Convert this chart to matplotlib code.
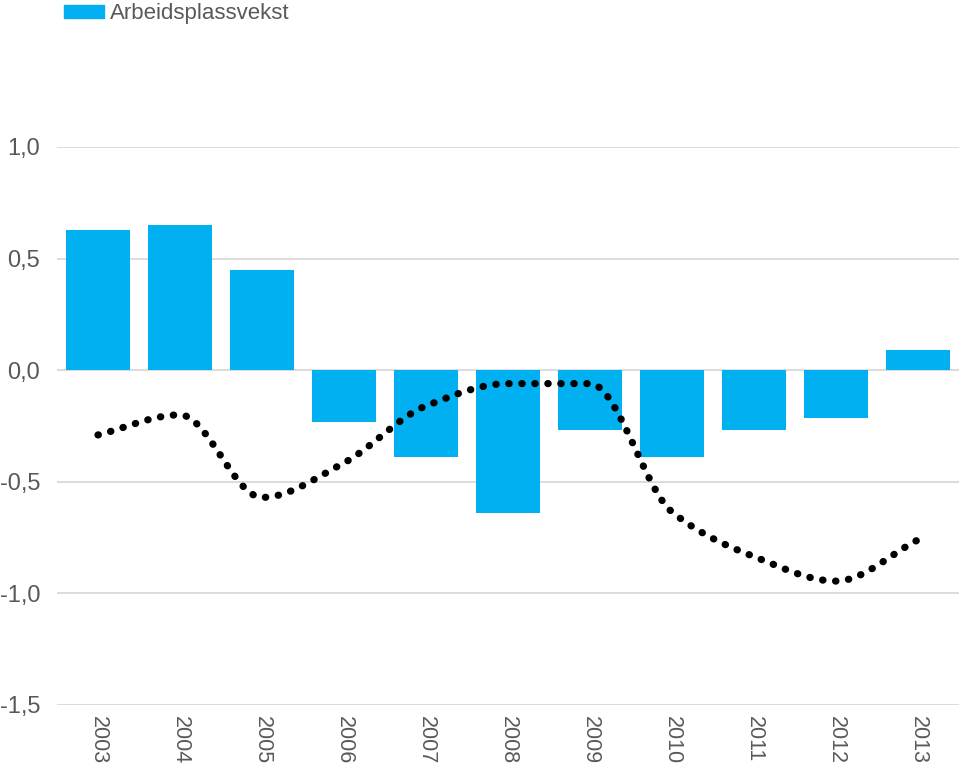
import numpy as np
import matplotlib
matplotlib.use('Agg')
import matplotlib.pyplot as plt
from matplotlib.ticker import FuncFormatter, MultipleLocator
from matplotlib.patches import Patch

# --- data ---
years = ['2003', '2004', '2005', '2006', '2007', '2008',
         '2009', '2010', '2011', '2012', '2013']
arbeidsplassvekst = [0.63, 0.65, 0.45, -0.23, -0.39, -0.64,
                     -0.27, -0.39, -0.27, -0.215, 0.09]
linje = [-0.29, -0.20, -0.57, -0.415, -0.16, -0.06,
         -0.06, -0.635, -0.835, -0.945, -0.76]

BLUE = '#00b0f0'
GREY = '#595959'


def smooth(xs, ys, n=40):
    # monotone cubic (Fritsch-Carlson) curve through the points
    xs = np.asarray(xs, float)
    ys = np.asarray(ys, float)
    h = np.diff(xs)
    d = np.diff(ys) / h
    m = np.zeros_like(ys)
    m[0], m[-1] = d[0], d[-1]
    for i in range(1, len(ys) - 1):
        if d[i - 1] * d[i] > 0:
            m[i] = 2 * d[i - 1] * d[i] / (d[i - 1] + d[i])
    outx, outy = [], []
    for i in range(len(h)):
        t = np.linspace(0, 1, n, endpoint=False)
        h00 = 2 * t**3 - 3 * t**2 + 1
        h10 = t**3 - 2 * t**2 + t
        h01 = -2 * t**3 + 3 * t**2
        h11 = t**3 - t**2
        outx.extend(xs[i] + t * h[i])
        outy.extend(h00 * ys[i] + h10 * h[i] * m[i]
                    + h01 * ys[i + 1] + h11 * h[i] * m[i + 1])
    outx.append(xs[-1])
    outy.append(ys[-1])
    return np.array(outx), np.array(outy)


plt.rcParams['font.family'] = ['Liberation Sans', 'DejaVu Sans']

fig = plt.figure(figsize=(9.6, 7.68), dpi=100)
ax = fig.add_axes([57 / 960, 1 - 705 / 768, 902 / 960, (705 - 147) / 768])

x = np.arange(len(years))
ax.bar(x, arbeidsplassvekst, width=0.77, color=BLUE, zorder=2)

sx, sy = smooth(x, linje)
ax.plot(sx, sy, color='black', lw=5.2, linestyle=(0, (0.05, 1.75)),
        dash_capstyle='round', zorder=3, clip_on=False)

ax.set_xlim(-0.5, len(years) - 0.5)
ax.set_ylim(-1.5, 1.0)
ax.yaxis.set_major_locator(MultipleLocator(0.5))
ax.yaxis.set_major_formatter(FuncFormatter(lambda v, p: f'{v:.1f}'.replace('.', ',')))
ax.set_xticks(x)
ax.set_xticklabels(years, rotation=-90)

ax.grid(axis='y', color='#d9d9d9', lw=1.3, zorder=0)
ax.set_axisbelow(True)
for s in ax.spines.values():
    s.set_visible(False)
ax.tick_params(axis='y', length=0, labelsize=17, colors=GREY, pad=12)
ax.tick_params(axis='x', length=0, labelsize=15.5, colors=GREY, pad=8)

fig.legend(handles=[Patch(color=BLUE, label='Arbeidsplassvekst')],
           loc='upper left', bbox_to_anchor=(64 / 960, 1 - 3 / 768), frameon=False,
           borderpad=0, borderaxespad=0,
           fontsize=16, labelcolor=GREY, handlelength=1.8, handleheight=0.54,
           handletextpad=0.25)

fig.savefig('out.png', dpi=100)
